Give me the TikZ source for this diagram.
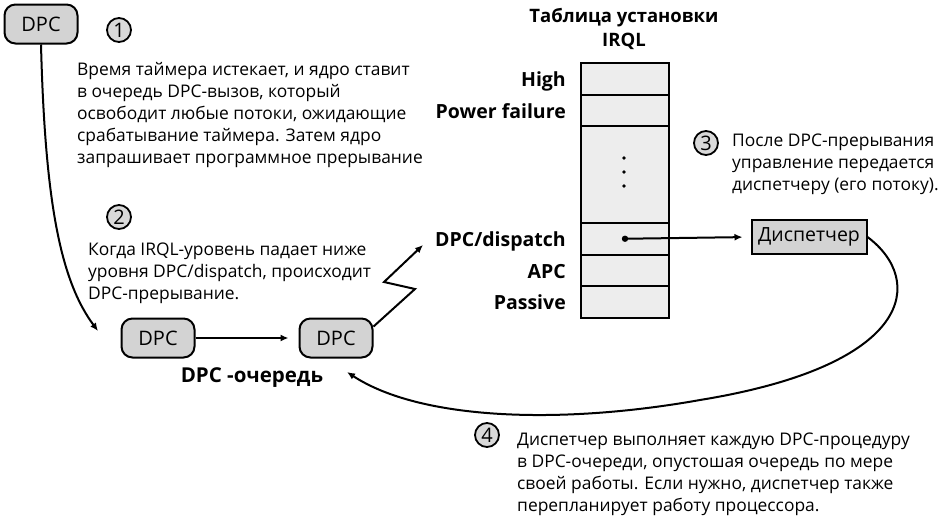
\documentclass[tikz,border=0pt]{standalone}
\usepackage{fontspec}
\setmainfont{Open Sans}
\usetikzlibrary{arrows.meta,calc}
\definecolor{boxgray}{HTML}{D3D3D3}
\definecolor{rowgray}{HTML}{EDEDED}
\definecolor{numgray}{HTML}{D9D9D9}

\begin{document}
\begin{tikzpicture}[x=1pt,y=-1pt,
  dpcbox/.style={draw,line width=2pt,rounded corners=11pt,fill=boxgray,
    minimum width=73pt,minimum height=39pt,inner sep=0pt,
    font=\fontsize{20}{22}\selectfont},
  numc/.style={circle,draw,line width=1.8pt,fill=numgray,minimum size=24pt,
    inner sep=0pt,font=\fontsize{20}{20}\selectfont},
  note/.style={anchor=north west,align=left,inner sep=0pt,
    font=\fontsize{17.4}{22}\selectfont},
  lvl/.style={anchor=base east,inner sep=0pt,font=\bfseries\fontsize{19.5}{22}\selectfont},
  row/.style={draw,line width=2pt,fill=rowgray,minimum width=88pt,
    inner sep=0pt,anchor=north west},
  link/.style={line width=2pt,-{Latex[length=8pt,width=7pt]}},
]
\useasboundingbox (0,0) rectangle (946,517);

% --- DPC objects and the queue ---
\node[dpcbox] (d0) at (41,24) {DPC};
\node[dpcbox] (d1) at (158,338) {DPC};
\node[dpcbox] (d2) at (336,338) {DPC};
\node[font=\bfseries\fontsize{20.5}{22}\selectfont,inner sep=0pt] (qlabel) at (252,378) {DPC -очередь};

% --- step markers ---
\node[numc] (n1) at (119,30) {1};
\node[numc] (n2) at (119,217) {2};
\node[numc] (n3) at (706,143) {3};
\node[numc] (n4) at (487,435) {4};

% --- step descriptions ---
\node[note] (t1) at (77,62) {Время таймера истекает, и ядро ставит\\
в очередь DPC-вызов, который\\
освободит любые потоки, ожидающие\\
срабатывание таймера. Затем ядро\\
запрашивает программное прерывание};
\node[note] (t2) at (88,243) {Когда IRQL-уровень падает ниже\\
уровня DPC/dispatch, происходит\\
DPC-прерывание.};
\node[note] (t3) at (732,134) {После DPC-прерывания\\
управление передается\\
диспетчеру (его потоку).};
\node[note] (t4) at (517,433) {Диспетчер выполняет каждую DPC-процедуру\\
в DPC-очереди, опустошая очередь по мере\\
своей работы. Если нужно, диспетчер также\\
перепланирует работу процессора.};

% --- IRQL table ---
\node[font=\bfseries\fontsize{18.5}{24}\selectfont,align=center,inner sep=0pt,anchor=north]
  (title) at (624,8) {Таблица установки\\IRQL};
\node[row,minimum height=31.5pt] (rHigh) at (580,62) {};
\node[row,minimum height=31.5pt] (rPow)  at (580,93.5) {};
\node[row,minimum height=97pt]   (rMid)  at (580,125) {};
\node[row,minimum height=31.5pt] (rDpc)  at (580,222) {};
\node[row,minimum height=31.5pt] (rApc)  at (580,253.5) {};
\node[row,minimum height=31.5pt] (rPas)  at (580,285) {};
\foreach \yy in {158,172,186} \fill (624,\yy) circle (1.9);

\node[lvl] (lHigh) at ($(rHigh.west)+(-14,8)$) {High};
\node[lvl] (lPow)  at ($(rPow.west)+(-14,8)$) {Power failure};
\node[lvl] (lDpc)  at ($(rDpc.west)+(-14,8)$) {DPC/dispatch};
\node[lvl] (lApc)  at ($(rApc.west)+(-14,8)$) {APC};
\node[lvl] (lPas)  at ($(rPas.west)+(-14,8)$) {Passive};

% --- dispatcher ---
\node[draw,line width=2pt,fill=boxgray,minimum width=115pt,minimum height=34pt,
  inner sep=0pt,font=\fontsize{19.5}{22}\selectfont] (disp) at (809,237) {Диспетчер};

% --- connectors ---
\coordinate (q0) at (98,331);
\coordinate (zz) at (423,245);
\coordinate (q2) at (347,372);

\draw[link] (d0.south) .. controls (45,200) and (60,280) .. (q0);
\draw[link,shorten >=10pt] (d1) -- (d2);
\draw[link] (d2.17) -- (415,289) -- (384,282) -- (zz);
\fill (rDpc.center) circle (3.2);
\draw[link,shorten >=8pt] (rDpc.center) -- (disp.west);
\draw[link] (disp.east) .. controls (925,280) and (915,365) .. (700,400)
  .. controls (560,425) and (420,420) .. (q2);
\end{tikzpicture}
\end{document}
